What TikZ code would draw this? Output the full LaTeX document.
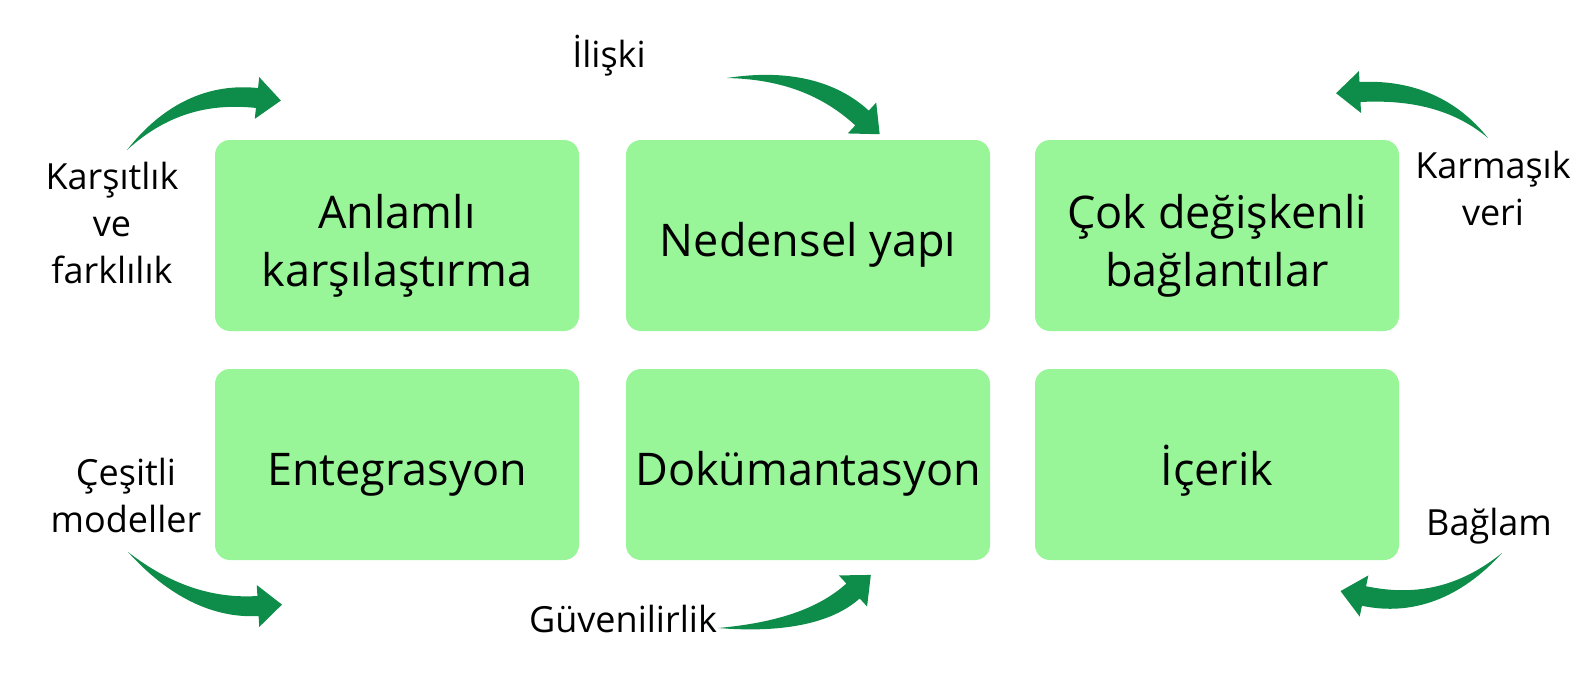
\documentclass[tikz,border=0pt]{standalone}
\usepackage{fontspec}
\setmainfont{Open Sans}
\usetikzlibrary{calc}
\definecolor{boxgreen}{RGB}{152,245,152}
\definecolor{arrowgreen}{RGB}{14,140,74}

% tapered bent arrow: tail, control, end of shaft
\newcommand{\bentarrow}[3]{%
  \coordinate (bq1) at ($(#1)!0.667!(#2)$);
  \coordinate (bq2) at ($(#3)!0.667!(#2)$);
  \fill[arrowgreen] (#1) .. controls ($(bq1)!6pt!-90:(#3)$) and ($(bq2)!10pt!90:(#2)$) .. ($(#3)!10pt!90:(#2)$)
    -- ($(#3)!21pt!90:(#2)$) -- ($(#3)!-24pt!(#2)$) -- ($(#3)!21pt!-90:(#2)$)
    -- ($(#3)!10pt!-90:(#2)$) .. controls ($(bq2)!10pt!-90:(#2)$) and ($(bq1)!6pt!90:(#3)$) .. (#1) -- cycle;}

\begin{document}
\begin{tikzpicture}[x=1pt, y=-1pt]
    % Define styles
    \tikzstyle{card} = [rectangle, rounded corners=15pt, minimum width=364pt, minimum height=191pt, text centered, align=center, text height=52pt, fill=boxgreen, font=\fontsize{45}{58}\selectfont]
    \tikzstyle{twoline} = [text height=112pt]
    \tikzstyle{sidetext} = [align=center, font=\fontsize{36}{47}\selectfont]

    \useasboundingbox (0,0) rectangle (1584,672);

    % Top row
    \node (meaning) [card, twoline] at (397,235.5) {Anlamlı\\karşılaştırma};
    \node (cause) [card] at (808,235.5) {Nedensel yapı};
    \node (multi) [card, twoline] at (1217,235.5) {Çok değişkenli\\bağlantılar};

    % Bottom row
    \node (integ) [card] at (397,464.5) {Entegrasyon};
    \node (docs) [card] at (808,464.5) {Dokümantasyon};
    \node (content) [card] at (1217,464.5) {İçerik};

    % Side texts
    \node (contrast) [sidetext] at (112,223) {Karşıtlık\\ve\\farklılık};
    \node (relation) [sidetext] at (609,56) {İlişki};
    \node (complex) [sidetext] at (1493,188) {Karmaşık\\veri};
    \node (models) [sidetext] at (126,495) {Çeşitli\\modeller};
    \node (trust) [sidetext] at (623,619) {Güvenilirlik};
    \node (context) [sidetext] at (1489,526) {Bağlam};

    % Arrow points
    \coordinate (a1s) at (127,150); \coordinate (a1c) at (182,90); \coordinate (a1e) at (257,98);
    \coordinate (a2s) at (727,78); \coordinate (a2c) at (812,72); \coordinate (a2e) at (862,118);
    \coordinate (a3s) at (1488,138); \coordinate (a3c) at (1440,88); \coordinate (a3e) at (1360,92);
    \coordinate (a4s) at (128,552); \coordinate (a4c) at (190,610); \coordinate (a4e) at (258,606);
    \coordinate (a5s) at (718,628); \coordinate (a5c) at (812,628); \coordinate (a5e) at (853,591);
    \coordinate (a6s) at (1502,553); \coordinate (a6c) at (1440,612); \coordinate (a6e) at (1364,596);

    % Arrows
    \bentarrow{a1s}{a1c}{a1e}
    \bentarrow{a2s}{a2c}{a2e}
    \bentarrow{a3s}{a3c}{a3e}
    \bentarrow{a4s}{a4c}{a4e}
    \bentarrow{a5s}{a5c}{a5e}
    \bentarrow{a6s}{a6c}{a6e}
\end{tikzpicture}
\end{document}
